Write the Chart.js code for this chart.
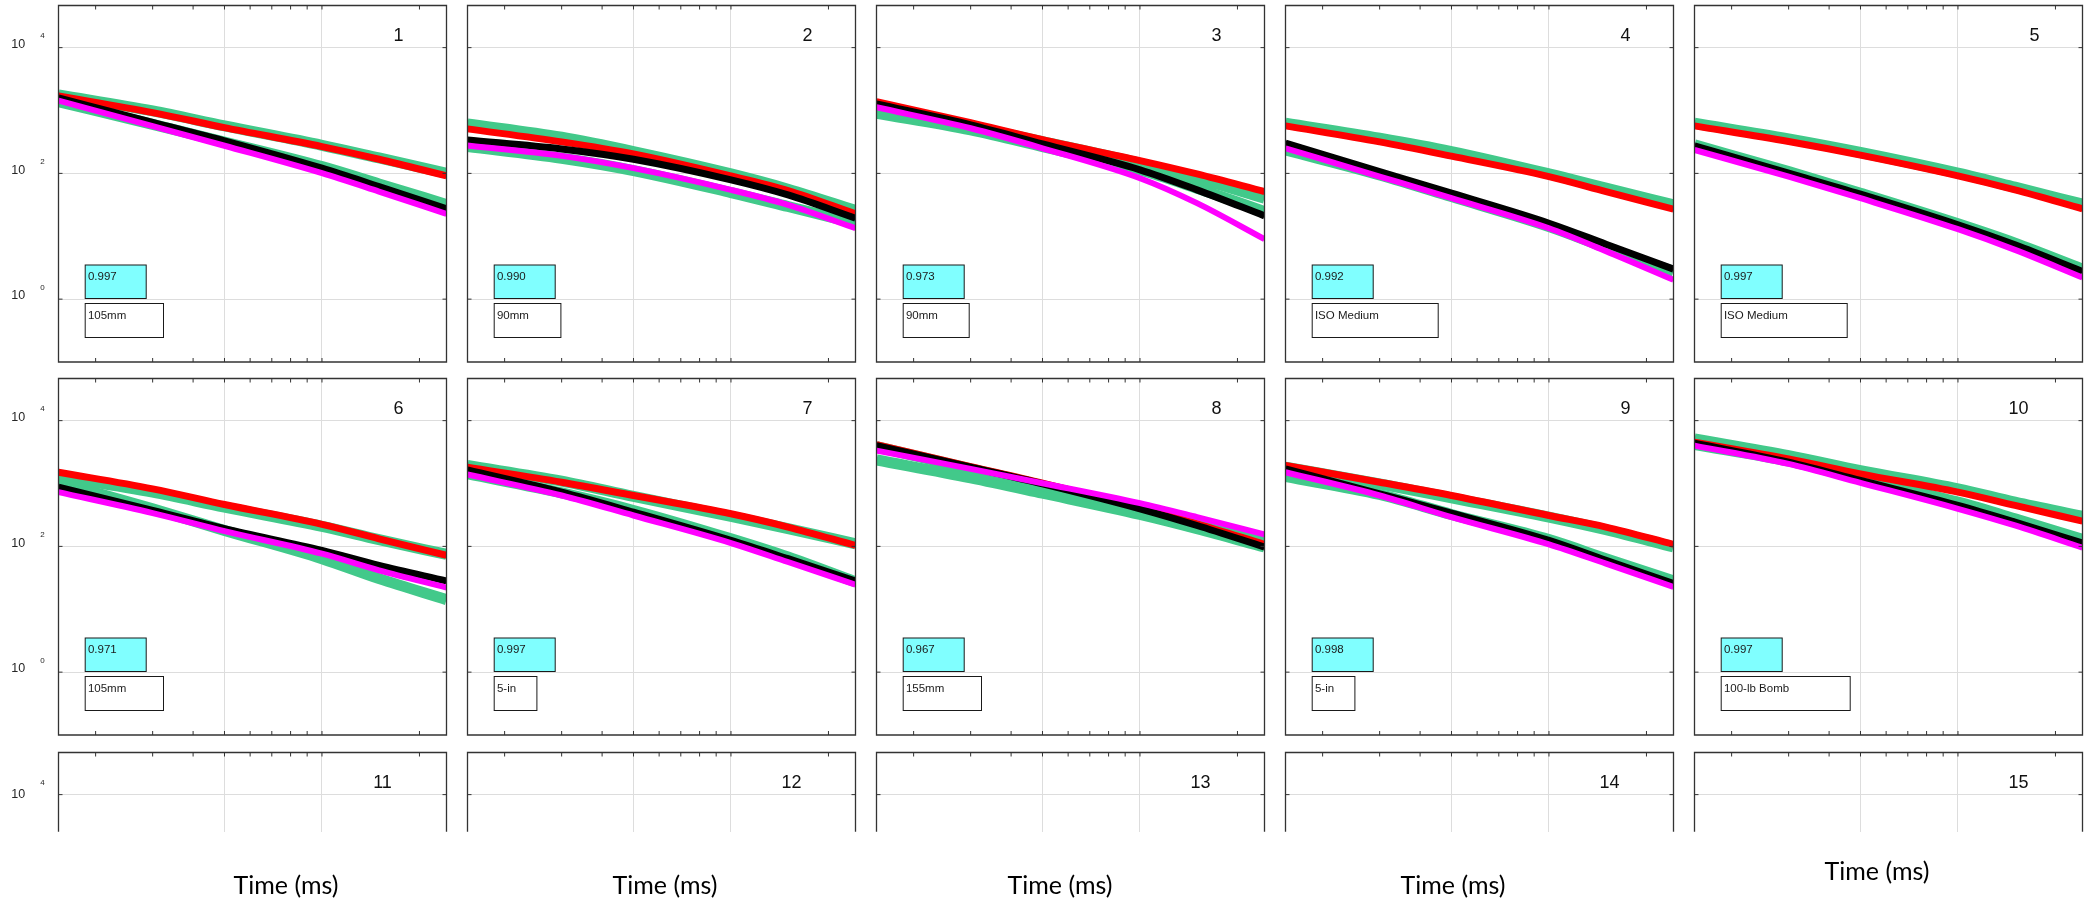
<!DOCTYPE html>
<html>
<head>
<meta charset="utf-8">
<script src="https://cdn.jsdelivr.net/npm/chart.js@4.4.1/dist/chart.umd.min.js"></script>
<style>
  html, body { margin: 0; padding: 0; background: #ffffff; }
  body { width: 2095px; height: 903px; position: relative; overflow: hidden; }
  canvas { position: absolute; }
</style>
</head>
<body>
<script>
// ---------------- DATA ----------------
const PANEL_LABELS = ['1','2','3','4','5','6','7','8','9','10','11','12','13','14','15'];
const WEAPONS   = ['105mm','90mm','90mm','ISO Medium','ISO Medium','105mm','5-in','155mm','5-in','100-lb Bomb'];
const R_VALUES  = ['0.997','0.990','0.973','0.992','0.997','0.971','0.997','0.967','0.998','0.997'];
const TIME_MS   = [1.536, 3, 5, 10, 15, 24.24];
const X_TICKS   = [2, 3, 4, 5, 6, 7, 8, 9, 10, 20];
const X_GRID    = [5, 10];
const Y_TICKS   = [1, 100, 10000];
const Y_TICK_EXP = ['0', '2', '4'];
const X_TITLE   = 'Time (ms)';

const RED = [
  [1705, 927, 535, 267, 168, 91.3],
  [510, 317, 204, 91, 53.4, 22.7],
  [1386, 640, 345, 160, 98, 51.4],
  [569, 317, 188, 89.1, 51.4, 26.9],
  [569, 321, 195, 91.3, 54.7, 27.3],
  [1513, 823, 464, 224, 132, 72.0],
  [1817, 1050, 645, 330, 203, 103.7],
  [4159, 1861, 1012, 411, 229, 107.6],
  [1931, 1050, 645, 310, 203, 107.6],
  [4531, 2464, 1424, 729, 448, 252]
];
const BLACK = [
  [1585, 650, 330, 121, 61.8, 27.3],
  [341, 245, 168, 79, 45.5, 19.4],
  [1272, 590, 294, 114, 54.7, 21.1],
  [302, 107, 48.4, 16.1, 7.48, 3.0],
  [274, 100.6, 46.7, 15.2, 7.30, 2.75],
  [874, 373, 191, 86.4, 49.9, 28.2],
  [1648, 729, 351, 124.5, 63.7, 28.2],
  [4011, 1817, 988, 396, 215, 97.6],
  [1709, 686, 338, 124.5, 60.0, 25.6],
  [4368, 2181, 1116, 448, 243, 113]
];
const MAGENTA = [
  [1438, 566, 275, 100.6, 51.4, 22.7],
  [277, 190, 121, 54.7, 31.6, 13.4],
  [1126, 522, 251, 83.8, 33.6, 8.99],
  [251, 89.1, 40.3, 13.4, 5.8, 2.03],
  [236, 89.1, 40.3, 12.96, 6.08, 2.21],
  [729, 338, 175, 76.5, 41.6, 22.1],
  [1390, 645, 310, 113, 56.4, 24.6],
  [3340, 1709, 1012, 487, 292, 155],
  [1513, 645, 292, 107.6, 53.1, 22.6],
  [4011, 2052, 1025, 396, 215, 95.2]
];
const GREEN_UPPER = [
  [1770, 985, 569, 280, 176, 100.6],
  [612, 375, 222, 98, 56, 25.7],
  [1227, 562, 321, 145, 83.8, 40.3],
  [627, 362, 222, 98, 58.1, 31.6],
  [627, 353, 215, 100.6, 60.3, 32.4],
  [1291, 729, 421, 208, 128, 74.6],
  [1931, 1089, 622, 300, 191, 110],
  [3866, 1709, 930, 396, 243, 128],
  [1817, 988, 592, 292, 184, 97.6],
  [5117, 2782, 1608, 823, 505, 300]
];
const GREEN_LOWER = [
  [1386, 603, 316, 128, 68, 32],
  [267, 174, 111, 49.6, 29.7, 16.1],
  [904, 491, 267, 114, 58.1, 24.7],
  [236, 94.7, 42.8, 14.3, 6.6, 2.75],
  [284, 107, 48.4, 15.8, 7.77, 3.0],
  [1050, 396, 179.5, 63.7, 30.7, 14.2],
  [1424, 708, 373, 132, 67.7, 27.2],
  [2376, 1230, 702, 322, 191, 97.6],
  [1291, 669, 322, 128, 63.7, 28.2],
  [4159, 2262, 1186, 505, 275, 129]
];

// ---------------- LAYOUT / STYLE ----------------
const X_MIN = 1.536, X_MAX = 24.24;
const Y_MIN = 0.1, Y_MAX = 46800, Y_MIN_CLIPPED = 2570;
const PANEL_W = 388, PANEL_H = 356.5, CLIP_BOTTOM = 831.7;
const COL_LEFT = [58.5, 467.5, 876.5, 1285.5, 1694.5];
const ROW_TOP = [5.5, 378.5, 752.5];
const NAME_BOX_W = [78.3, 66.7, 66, 126, 126, 78.3, 42.7, 78.3, 42.7, 129];
const XTITLE_DX = [227.5, 197.5, 183.5, 167.5, 182.5];
const XTITLE_BASE = [894, 894, 894, 894, 880];
const AXIS_COLOR = '#333333';
const GRID_COLOR = '#dddddd';
const GREEN = '#42c98a';
const TICK_LEN = 4;

const decor = {
  id: 'decor',
  afterDraw(chart, args, o) {
    const ctx = chart.ctx, a = chart.chartArea;
    const xs = chart.scales.x, ys = chart.scales.y;
    ctx.save();
    // frame
    ctx.strokeStyle = AXIS_COLOR;
    ctx.lineWidth = 1.3;
    ctx.beginPath();
    if (o.clipped) {
      ctx.moveTo(a.left, a.bottom); ctx.lineTo(a.left, a.top);
      ctx.lineTo(a.right, a.top); ctx.lineTo(a.right, a.bottom);
    } else {
      ctx.rect(a.left, a.top, a.right - a.left, a.bottom - a.top);
    }
    ctx.stroke();
    // inward tick marks
    ctx.lineWidth = 1;
    ctx.beginPath();
    X_TICKS.forEach(v => {
      const px = xs.getPixelForValue(v);
      ctx.moveTo(px, a.top); ctx.lineTo(px, a.top + TICK_LEN);
      if (!o.clipped) { ctx.moveTo(px, a.bottom); ctx.lineTo(px, a.bottom - TICK_LEN); }
    });
    Y_TICKS.forEach(v => {
      if (v < ys.min || v > ys.max) return;
      const py = ys.getPixelForValue(v);
      ctx.moveTo(a.left, py); ctx.lineTo(a.left + TICK_LEN, py);
      ctx.moveTo(a.right, py); ctx.lineTo(a.right - TICK_LEN, py);
    });
    ctx.stroke();
    // panel number
    ctx.fillStyle = '#111111';
    ctx.font = '18px "Liberation Sans", Arial, sans-serif';
    ctx.textAlign = 'center';
    ctx.textBaseline = 'middle';
    ctx.fillText(o.label, a.left + (o.label.length > 1 ? 324 : 340), a.top + 31);
    // y tick labels (first column only)
    if (o.yLabels) {
      ctx.fillStyle = '#262626';
      Y_TICKS.forEach((v, i) => {
        if (v < ys.min || v > ys.max) return;
        const py = ys.getPixelForValue(v);
        ctx.font = '12.5px "Liberation Sans", Arial, sans-serif';
        ctx.fillText('10', a.left - 40.2, py + (o.clipped ? 0 : -3.3));
        ctx.font = '8px "Liberation Sans", Arial, sans-serif';
        ctx.fillText(Y_TICK_EXP[i], a.left - 16, py - 11.8);
      });
    }
    // annotation boxes
    if (o.r) {
      const bx = a.left + 26.7, by = a.top + 259.5, ny = a.top + 298;
      ctx.lineWidth = 1;
      ctx.strokeStyle = '#1a1a1a';
      ctx.fillStyle = '#80ffff';
      ctx.fillRect(bx, by, 61, 33.5);
      ctx.strokeRect(bx, by, 61, 33.5);
      ctx.fillStyle = '#ffffff';
      ctx.fillRect(bx, ny, o.nameW, 34);
      ctx.strokeRect(bx, ny, o.nameW, 34);
      ctx.fillStyle = '#1a1a1a';
      ctx.font = '11.5px "Liberation Sans", Arial, sans-serif';
      ctx.textAlign = 'left';
      ctx.textBaseline = 'alphabetic';
      ctx.fillText(o.r, bx + 2.7, by + 14.5);
      ctx.fillText(o.name, bx + 2.7, ny + 15);
    }
    // x axis title (bottom row)
    if (o.xTitle) {
      ctx.fillStyle = '#000000';
      ctx.font = '25px Lato, "Open Sans", sans-serif';
      ctx.textAlign = 'center';
      ctx.textBaseline = 'alphabetic';
      ctx.fillText(o.xTitle, a.left + o.xTitleDx, o.xTitleY);
    }
    ctx.restore();
  }
};

function series(vals, color, width) {
  return {
    data: TIME_MS.map((t, i) => ({ x: t, y: vals[i] })),
    borderColor: color,
    borderWidth: width,
    pointRadius: 0,
    fill: false,
    cubicInterpolationMode: 'monotone',
    borderJoinStyle: 'round',
    clip: 0
  };
}

for (let r = 0; r < 3; r++) {
  for (let c = 0; c < 5; c++) {
    const idx = r * 5 + c;
    const clipped = r === 2;
    const pl = COL_LEFT[c], pt = ROW_TOP[r];
    const pr = pl + PANEL_W;
    const pb = clipped ? CLIP_BOTTOM : pt + PANEL_H;
    const CL = c === 0 ? 0 : Math.floor(pl) - 12;
    const CT = Math.floor(pt) - 5;
    const CR = Math.ceil(pr) + 8;
    const CB = clipped ? 903 : Math.ceil(pb) + 5;
    const cv = document.createElement('canvas');
    cv.width = CR - CL; cv.height = CB - CT;
    cv.style.left = CL + 'px'; cv.style.top = CT + 'px';
    cv.style.width = (CR - CL) + 'px'; cv.style.height = (CB - CT) + 'px';
    document.body.appendChild(cv);

    const datasets = idx < 10 ? [
      series(MAGENTA[idx], '#ff00ff', 6),
      series(BLACK[idx], '#000000', 7),
      series(RED[idx], '#ff0000', 7),
      series(GREEN_UPPER[idx], GREEN, 11),
      series(GREEN_LOWER[idx], GREEN, 11)
    ] : [];

    new Chart(cv, {
      type: 'line',
      data: { datasets },
      options: {
        responsive: false,
        animation: false,
        events: [],
        devicePixelRatio: 1,
        layout: {
          autoPadding: false,
          padding: { left: pl - CL, top: pt - CT, right: CR - pr, bottom: CB - pb }
        },
        plugins: {
          legend: { display: false },
          tooltip: { enabled: false },
          decor: {
            label: PANEL_LABELS[idx],
            clipped,
            yLabels: c === 0,
            r: idx < 10 ? R_VALUES[idx] : null,
            name: idx < 10 ? WEAPONS[idx] : null,
            nameW: idx < 10 ? NAME_BOX_W[idx] : 0,
            xTitle: clipped ? X_TITLE : null,
            xTitleDx: XTITLE_DX[c],
            xTitleY: XTITLE_BASE[c] - CT
          }
        },
        scales: {
          x: {
            type: 'logarithmic', min: X_MIN, max: X_MAX,
            ticks: { display: false },
            border: { display: false },
            grid: { drawTicks: false, color: GRID_COLOR, lineWidth: 1 },
            afterBuildTicks: ax => { ax.ticks = X_GRID.map(v => ({ value: v })); }
          },
          y: {
            type: 'logarithmic', min: clipped ? Y_MIN_CLIPPED : Y_MIN, max: Y_MAX,
            ticks: { display: false },
            border: { display: false },
            grid: { drawTicks: false, color: GRID_COLOR, lineWidth: 1 },
            afterBuildTicks: ax => { ax.ticks = Y_TICKS.map(v => ({ value: v })); }
          }
        }
      },
      plugins: [decor]
    });
  }
}
</script>
</body>
</html>
